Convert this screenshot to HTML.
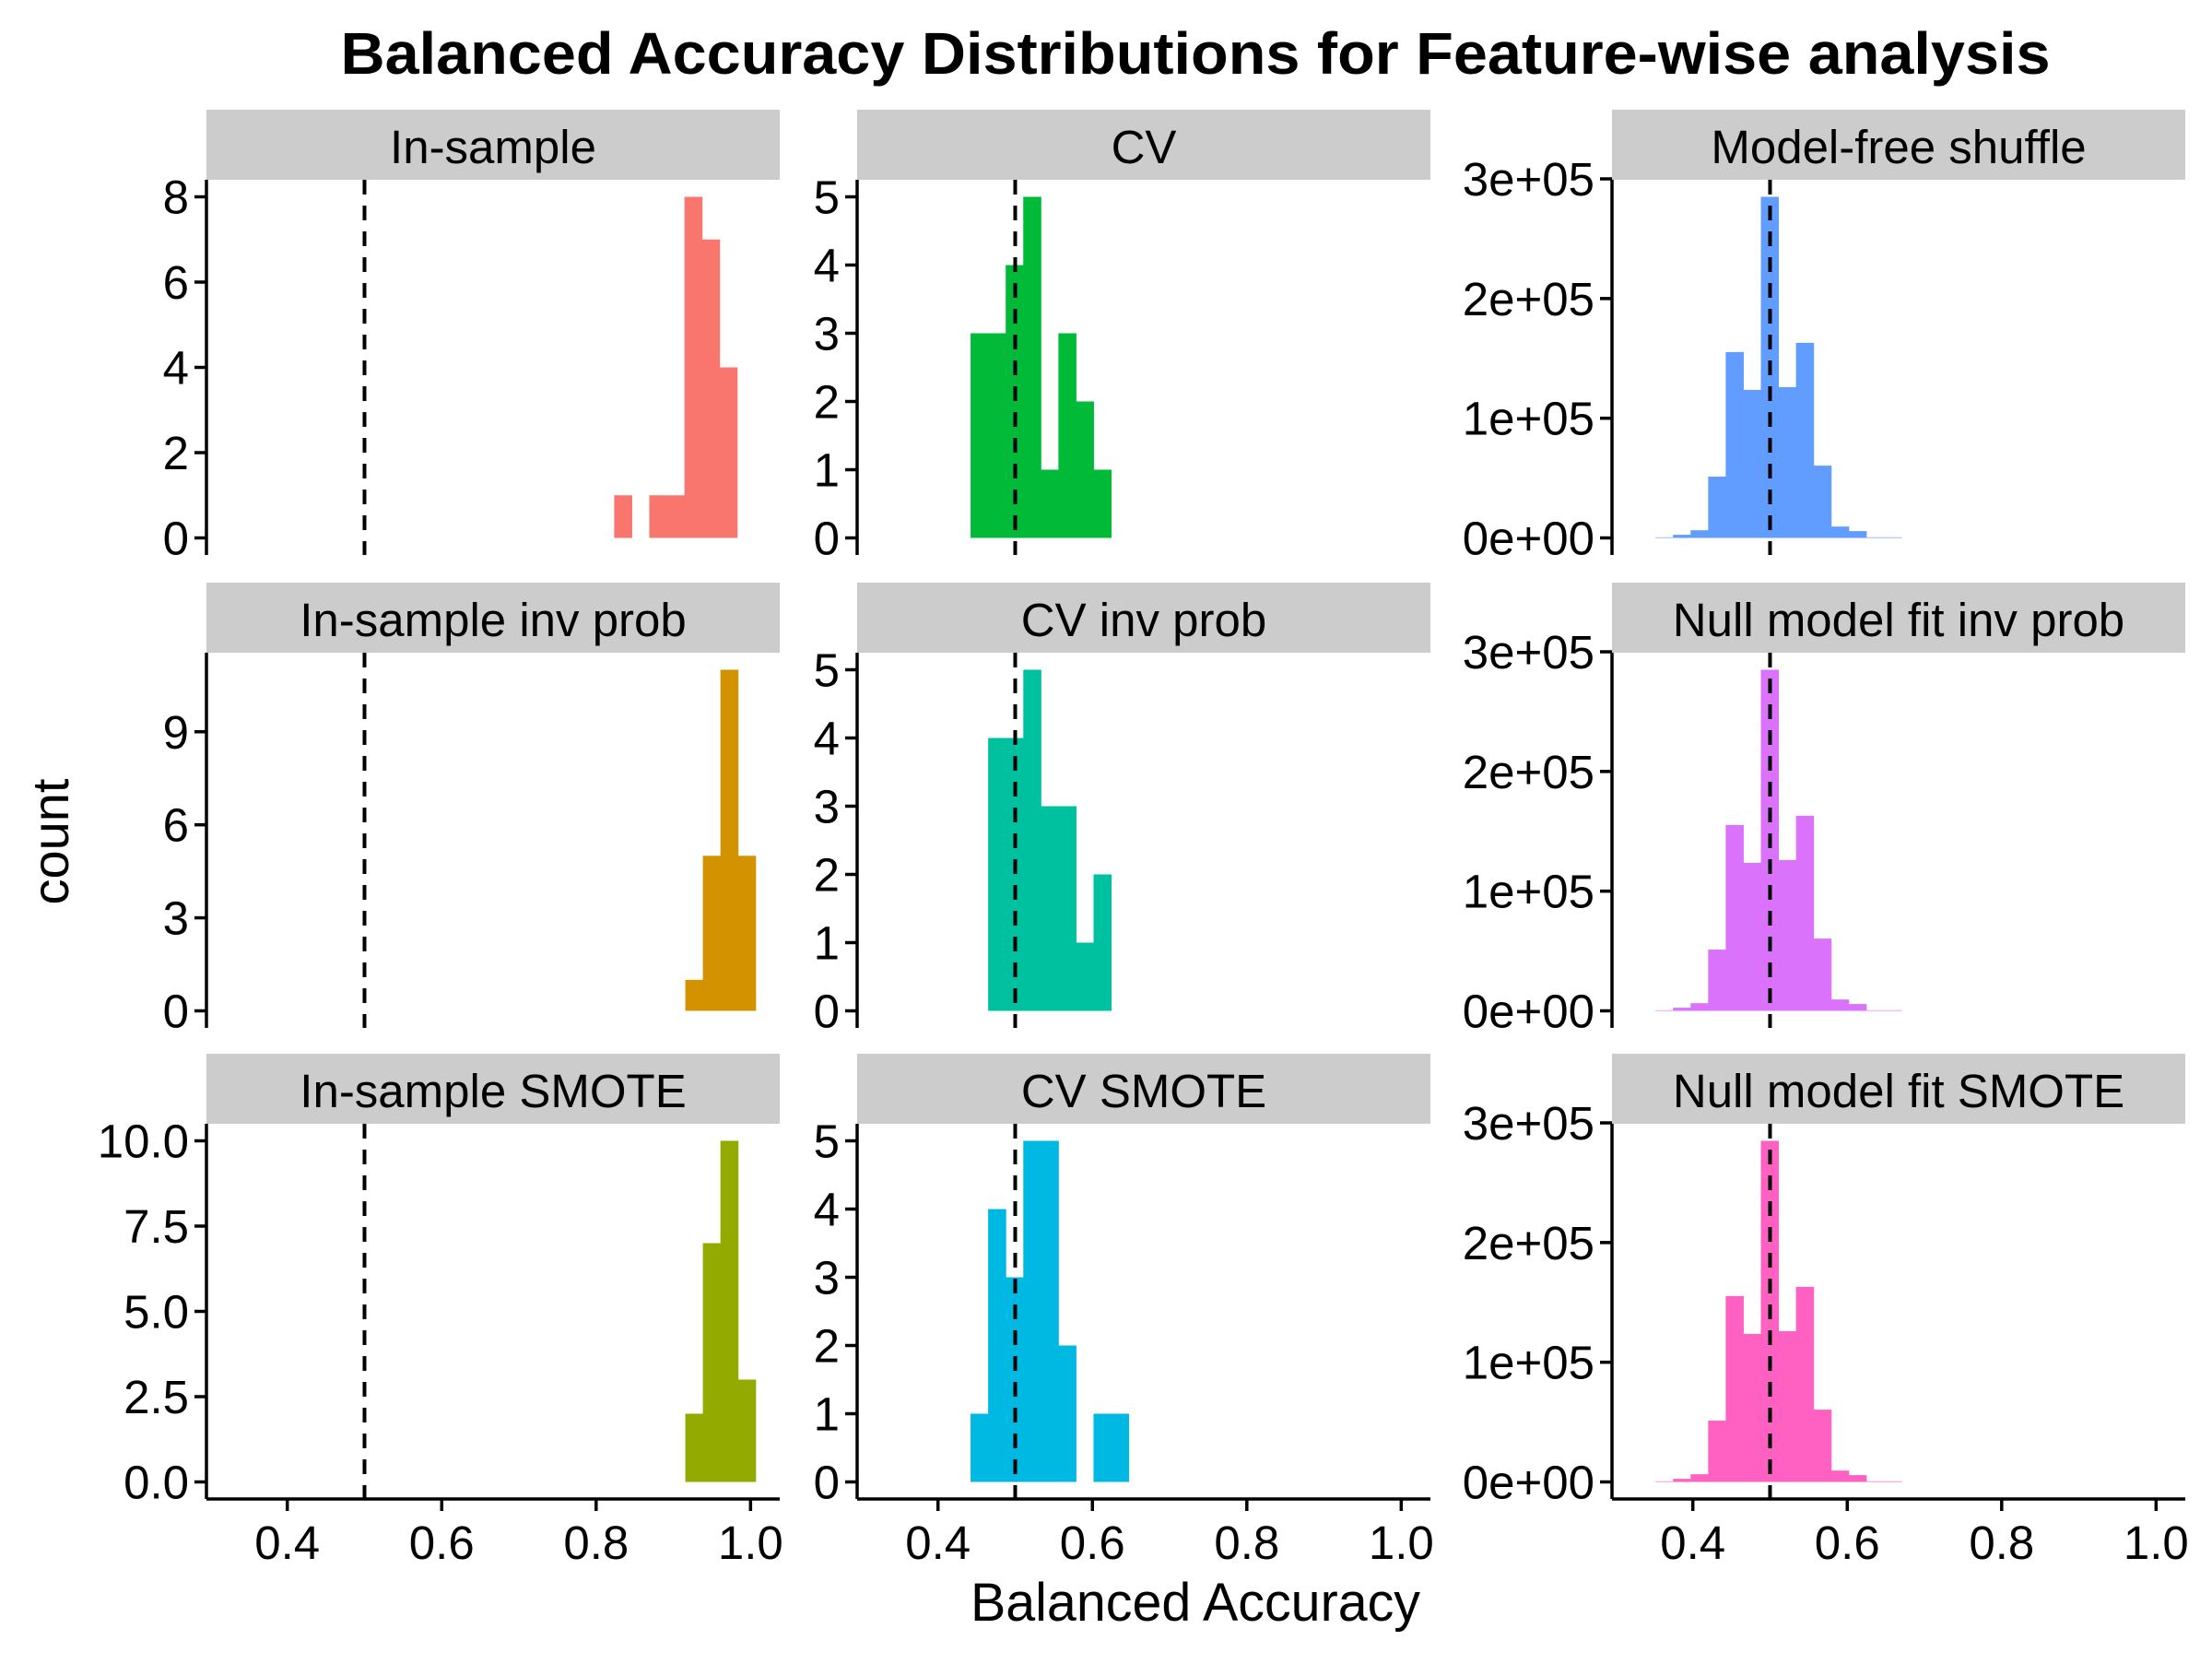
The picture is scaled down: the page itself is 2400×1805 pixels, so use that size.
<!DOCTYPE html>
<html><head><meta charset="utf-8"><style>
html,body{margin:0;padding:0;background:#fff;}
svg text{font-family:"Liberation Sans",Arial,sans-serif;}
</style></head><body>
<svg id="chart" xmlns="http://www.w3.org/2000/svg" width="2400" height="1800" viewBox="0 0 2400 1800">
<rect width="2400" height="1800" fill="#fff"/>
<text x="1297" y="80" text-anchor="middle" font-size="64" font-weight="bold" textLength="1855" lengthAdjust="spacingAndGlyphs">Balanced Accuracy Distributions for Feature-wise analysis</text>
<text x="1297" y="1758" text-anchor="middle" font-size="58" textLength="488" lengthAdjust="spacingAndGlyphs">Balanced Accuracy</text>
<text transform="translate(74,913) rotate(-90)" text-anchor="middle" font-size="56">count</text>
<g id="panels"></g>
</svg>
<script>
// Panel titles and colors
const panelTitles = ["In-sample","CV","Model-free shuffle","In-sample inv prob","CV inv prob","Null model fit inv prob","In-sample SMOTE","CV SMOTE","Null model fit SMOTE"];
const panelColors = ["#F8766D","#00BA38","#619CFF","#D39200","#00C19F","#DB72FB","#93AA00","#00B9E3","#FF61C3"];
// Bin setup (balanced accuracy)
const binWidth = 0.02275;
const binStarts = [0.8234,0.4422,0.3516,0.9155,0.4650,0.3516,0.9155,0.4422,0.3516];
// Counts per bin
const countsInSample = [1,0,1,1,8,7,4];
const countsCV = [3,3,4,5,1,3,2,1];
const countsShuffle = [500,2600,6400,51200,155300,123700,285000,126000,163000,60400,9500,5700,500,500];
const countsInSampleInv = [1,5,11,5];
const countsCVInv = [4,4,5,3,3,1,2];
const countsNullInv = [500,2600,6400,51200,155300,123700,285000,126000,163000,60400,9500,5700,500,500];
const countsInSampleSmote = [2,7,10,3];
const countsCVSmote = [1,4,3,5,5,2,0,1,1];
const countsNullSmote = [500,2600,6400,51200,155300,123700,285000,126000,163000,60400,9500,5700,500,500];
// Axis
const xTicks = [0.4,0.6,0.8,1.0];
const xTickLabels = ["0.4","0.6","0.8","1.0"];
const refLine = 0.5;
const yTicksCount = [[0,2,4,6,8],[0,1,2,3,4,5],[0,100000,200000,300000],[0,3,6,9],[0,1,2,3,4,5],[0,100000,200000,300000],[0,2.5,5,7.5,10],[0,1,2,3,4,5],[0,100000,200000,300000]];
const yTickLabels = [["0","2","4","6","8"],["0","1","2","3","4","5"],["0e+00","1e+05","2e+05","3e+05"],["0","3","6","9"],["0","1","2","3","4","5"],["0e+00","1e+05","2e+05","3e+05"],["0.0","2.5","5.0","7.5","10.0"],["0","1","2","3","4","5"],["0e+00","1e+05","2e+05","3e+05"]];
const allCounts = [countsInSample,countsCV,countsShuffle,countsInSampleInv,countsCVInv,countsNullInv,countsInSampleSmote,countsCVSmote,countsNullSmote];

const NS="http://www.w3.org/2000/svg";
const colLeft=[224,930,1749], panelW=622;
const rowTop=[195,708,1219], panelH=407, stripH=76;
const xMin=0.2953, xMax=1.0378;
function mk(tag,attrs,parent){const e=document.createElementNS(NS,tag);for(const k in attrs)e.setAttribute(k,attrs[k]);parent.appendChild(e);return e;}
const root=document.getElementById('panels');
for(let p=0;p<9;p++){
  const r=Math.floor(p/3), c=p%3;
  const L=colLeft[c], T=rowTop[r];
  const counts=allCounts[p];
  const ymax=Math.max(...counts);
  const y0=-0.05*ymax, y1=1.05*ymax;
  const xs=v=>L+(v-xMin)/(xMax-xMin)*panelW;
  const ys=v=>T+panelH-(v-y0)/(y1-y0)*panelH;
  const g=mk('g',{},root);
  
  
  const strip=mk('rect',{x:L,y:T-stripH,width:panelW,height:stripH,fill:'#cccccc'},g);
  
  
  const st=mk('text',{x:L+panelW/2,y:T-stripH+58,'text-anchor':'middle','font-size':'51'},g);
  st.textContent=panelTitles[p];
  
  
  counts.forEach((v,i)=>{
    if(v<=0)return;
    const a=binStarts[p]+i*binWidth, b=a+binWidth;
    const bar=mk('rect',{x:xs(a),y:ys(v),width:xs(b)-xs(a)+0.5,height:ys(0)-ys(v),fill:panelColors[p]},g);
    
    
  });
  const dl=mk('line',{x1:xs(refLine),x2:xs(refLine),y1:T,y2:T+panelH,stroke:'#000','stroke-width':4,'stroke-dasharray':'16 12'},g);
  
  
  const ya=mk('line',{x1:L,x2:L,y1:T,y2:T+panelH,stroke:'#000','stroke-width':3.5},g);
  
  
  yTicksCount[p].forEach((v,i)=>{
    const y=ys(v);
    const t=mk('line',{x1:L-13,x2:L,y1:y,y2:y,stroke:'#000','stroke-width':3.5},g);
    
    
    const tl=mk('text',{x:L-19,y:y+18,'text-anchor':'end','font-size':'51'},g);
    tl.textContent=yTickLabels[p][i];
    
    
  });
  if(r===2){
    const xa=mk('line',{x1:L,x2:L+panelW,y1:T+panelH,y2:T+panelH,stroke:'#000','stroke-width':3.5},g);
    
    
    xTicks.forEach((v,i)=>{
      const x=xs(v);
      const t=mk('line',{x1:x,x2:x,y1:T+panelH,y2:T+panelH+13,stroke:'#000','stroke-width':3.5},g);
      
      
      const tl=mk('text',{x:x,y:1691,'text-anchor':'middle','font-size':'51'},g);
      tl.textContent=xTickLabels[i];
      
      
    });
  }
}
</script>
</body></html>
